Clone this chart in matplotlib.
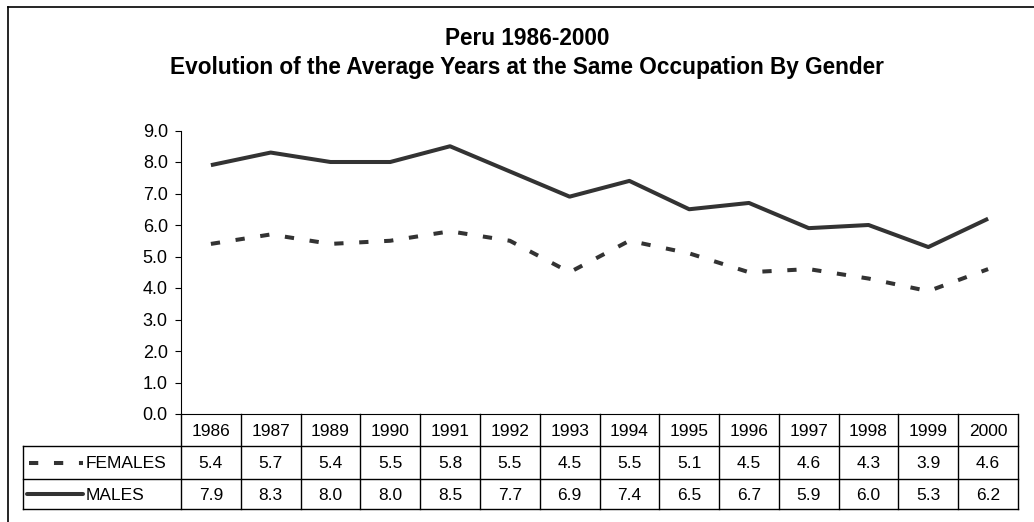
import matplotlib
matplotlib.use('Agg')
import matplotlib.pyplot as plt
from matplotlib.lines import Line2D
from matplotlib.transforms import Affine2D, blended_transform_factory

# Peru 1986-2000, average years at the same occupation

years = ['1986', '1987', '1989', '1990', '1991', '1992', '1993',
         '1994', '1995', '1996', '1997', '1998', '1999', '2000']
females = [5.4, 5.7, 5.4, 5.5, 5.8, 5.5, 4.5, 5.5, 5.1, 4.5, 4.6, 4.3, 3.9, 4.6]
males = [7.9, 8.3, 8.0, 8.0, 8.5, 7.7, 6.9, 7.4, 6.5, 6.7, 5.9, 6.0, 5.3, 6.2]
series_names = ['FEMALES', 'MALES']
yticks = [0, 1, 2, 3, 4, 5, 6, 7, 8, 9]

W, H = 1034, 522
plt.rcParams['font.family'] = ['Liberation Sans', 'DejaVu Sans']

fig = plt.figure(figsize=(W / 100, H / 100), dpi=100)
fig.patch.set_facecolor('white')

# pixel coords from top-left
pix = Affine2D().scale(1, -1).translate(0, H)

line_col = '#333333'
lw = 2.9
dash = (2.3, 3.9)

# plot area
ax_l, ax_r, ax_t, ax_b = 181, 1018, 130.5, 414
ax = fig.add_axes([ax_l / W, (H - ax_b) / H, (ax_r - ax_l) / W, (ax_b - ax_t) / H])
x = list(range(len(years)))
ax.plot(x, males, color=line_col, lw=lw, solid_joinstyle='round', solid_capstyle='butt')
ax.plot(x, females, color=line_col, lw=lw, dashes=dash)
ax.set_xlim(-0.5, len(years) - 0.5)
ax.set_ylim(0, 9)
ax.set_yticks(yticks)
ax.set_yticklabels(['%.1f' % v for v in yticks], fontsize=13)
ax.set_xticks([])
ax.tick_params(axis='y', direction='out', length=4.5, width=0.8, pad=5)
for s in ['top', 'right']:
    ax.spines[s].set_visible(False)
ax.spines['left'].set_linewidth(0.8)
ax.spines['bottom'].set_linewidth(0.8)

# title
fig.text(527, 45, 'Peru 1986-2000', transform=pix, ha='center', va='baseline',
         fontsize=16.3, fontweight='bold')
fig.text(527, 74, 'Evolution of the Average Years at the Same Occupation By Gender',
         transform=pix, ha='center', va='baseline', fontsize=16.3, fontweight='bold')

# data table below the axis
tr = blended_transform_factory(ax.transData, pix)
rows_y = [414, 446, 479, 509]
left_x = 23
n = len(years)

def add_line(xs, ys, transform, lw=1.0, color='black'):
    fig.add_artist(Line2D(xs, ys, transform=transform, color=color, lw=lw))

# vertical grid of the data columns
for i in range(n + 1):
    add_line([i - 0.5, i - 0.5], [rows_y[0], rows_y[-1]], tr)
# horizontal rules
for yy in rows_y[1:]:
    add_line([left_x, ax_r], [yy, yy], pix)
add_line([left_x, left_x], [rows_y[1], rows_y[-1]], pix)

fs = 12.5
for i, yr in enumerate(years):
    fig.text(i, (rows_y[0] + rows_y[1]) / 2 + 1, yr, transform=tr,
             ha='center', va='center', fontsize=fs)
for r, vals in enumerate([females, males]):
    yc = (rows_y[r + 1] + rows_y[r + 2]) / 2 + 1
    for i, v in enumerate(vals):
        fig.text(i, yc, '%.1f' % v, transform=tr, ha='center', va='center', fontsize=fs)
    fig.text(86, yc, series_names[r], transform=pix, ha='left', va='center', fontsize=fs)

# legend keys inside the table
yf = (rows_y[1] + rows_y[2]) / 2 + 0.5
ym = (rows_y[2] + rows_y[3]) / 2
fig.add_artist(Line2D([29, 83], [yf, yf], transform=pix, color=line_col, lw=lw,
                      dashes=dash))
fig.add_artist(Line2D([27, 83], [ym, ym], transform=pix, color=line_col, lw=lw,
                      solid_capstyle='round'))

# outer chart border (top and left visible)
add_line([8, W], [7, 7], pix, lw=1.2)
add_line([8, 8], [7, H], pix, lw=1.2)

fig.savefig('out.png', dpi=100, facecolor='white')
